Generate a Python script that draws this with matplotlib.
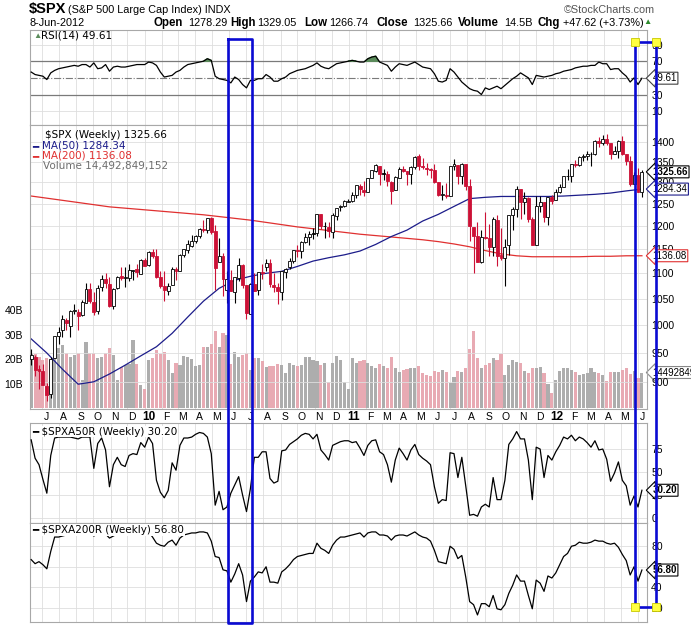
import numpy as np
import pandas as pd
import matplotlib
matplotlib.use('Agg')
import matplotlib.pyplot as plt
import matplotlib.ticker as mtick
import matplotlib.transforms as mtrans
from matplotlib.lines import Line2D

plt.rcParams['font.family'] = ['Liberation Sans', 'DejaVu Sans']

# weekly bars 12-Jun-2009 .. 8-Jun-2012
weeks = pd.date_range('2009-06-12', '2012-06-08', freq='W-FRI')

opens = [940.0, 943.4, 922.0, 918.8, 894.3, 881.0, 940.6, 979.9, 990.2, 1008.9,
         998.2, 1026.6, 1025.2, 1018.7, 1041.0, 1067.9, 1043.0, 1026.9, 1072.0, 1088.2,
         1079.4, 1036.2, 1069.8, 1094.0, 1091.5, 1091.0, 1105.5, 1107.9, 1097.9, 1127.3,
         1116.6, 1145.0, 1136.0, 1092.4, 1073.9, 1065.5, 1075.9, 1109.1, 1105.4, 1138.4,
         1148.5, 1157.3, 1167.7, 1178.7, 1193.6, 1192.1, 1217.1, 1188.6, 1122.3, 1136.5,
         1067.4, 1087.3, 1063.0, 1091.2, 1117.1, 1077.5, 1020.0, 1078.0, 1066.0, 1102.9,
         1112.8, 1122.0, 1077.5, 1073.4, 1062.9, 1102.6, 1113.4, 1126.1, 1148.6, 1146.7,
         1165.3, 1176.8, 1184.7, 1185.7, 1226.7, 1200.4, 1196.7, 1186.6, 1223.2, 1242.5,
         1243.9, 1254.7, 1257.6, 1270.8, 1292.5, 1283.3, 1276.5, 1311.9, 1328.7, 1341.0,
         1322.7, 1321.2, 1301.2, 1281.7, 1311.8, 1332.0, 1328.6, 1319.6, 1337.1, 1365.2,
         1340.2, 1334.0, 1333.1, 1331.1, 1300.3, 1271.3, 1271.5, 1268.4, 1339.6, 1343.3,
         1315.9, 1344.3, 1292.6, 1198.5, 1179.2, 1123.2, 1176.7, 1173.6, 1153.5, 1214.0,
         1136.9, 1131.2, 1158.2, 1224.5, 1238.7, 1284.9, 1253.2, 1263.9, 1215.2, 1158.7,
         1244.3, 1255.1, 1219.7, 1265.0, 1258.9, 1277.8, 1289.1, 1315.3, 1316.2, 1344.3,
         1342.6, 1361.2, 1365.2, 1369.6, 1370.8, 1404.2, 1397.1, 1408.5, 1397.5, 1370.3,
         1378.5, 1403.4, 1369.0, 1351.9, 1295.7, 1317.8, 1278.29]
highs = [956.2, 946.3, 930.0, 931.0, 898.7, 943.0, 979.4, 996.7, 1018.0, 1013.1,
         1027.6, 1039.5, 1031.0, 1048.2, 1080.2, 1080.2, 1062.0, 1076.0, 1096.6, 1101.4,
         1092.6, 1071.5, 1094.0, 1113.7, 1112.4, 1119.1, 1107.5, 1119.7, 1129.6, 1130.4,
         1145.4, 1150.4, 1150.5, 1103.7, 1104.7, 1080.0, 1112.4, 1112.4, 1139.7, 1150.0,
         1169.2, 1181.0, 1181.0, 1194.7, 1214.0, 1217.3, 1219.8, 1202.6, 1173.6, 1141.9,
         1104.7, 1105.7, 1092.0, 1131.2, 1118.5, 1077.5, 1080.0, 1100.0, 1103.0, 1120.0,
         1129.2, 1129.2, 1100.1, 1081.0, 1105.1, 1111.2, 1131.5, 1149.0, 1159.7, 1167.7,
         1184.4, 1189.4, 1196.1, 1227.1, 1227.1, 1208.0, 1208.0, 1228.0, 1240.4, 1246.7,
         1259.3, 1260.0, 1278.0, 1293.2, 1296.1, 1302.7, 1311.0, 1330.0, 1344.1, 1341.0,
         1332.3, 1327.7, 1304.7, 1314.8, 1337.9, 1339.5, 1328.6, 1339.5, 1364.6, 1370.6,
         1359.4, 1346.8, 1334.6, 1345.2, 1300.3, 1295.0, 1298.6, 1341.0, 1356.5, 1343.3,
         1347.0, 1346.0, 1307.4, 1198.5, 1208.5, 1190.7, 1230.7, 1204.4, 1220.4, 1224.6,
         1195.9, 1171.4, 1224.6, 1242.0, 1292.7, 1284.9, 1277.6, 1266.0, 1219.7, 1267.1,
         1267.1, 1255.1, 1265.4, 1269.4, 1284.6, 1296.8, 1315.5, 1333.5, 1345.0, 1354.3,
         1363.9, 1368.9, 1378.0, 1374.2, 1405.9, 1414.0, 1419.2, 1422.4, 1397.5, 1391.4,
         1406.6, 1415.3, 1369.0, 1365.9, 1324.2, 1334.9, 1329.05]
lows = [930.0, 910.0, 888.9, 895.0, 869.3, 875.3, 940.6, 965.0, 978.5, 991.0,
        978.5, 1020.0, 991.0, 1017.0, 1041.0, 1041.2, 1019.0, 1020.2, 1064.5, 1071.0,
        1033.4, 1029.4, 1069.0, 1086.5, 1073.0, 1085.0, 1085.9, 1093.0, 1097.9, 1114.8,
        1114.0, 1131.4, 1090.2, 1071.6, 1044.5, 1056.5, 1075.9, 1086.0, 1105.4, 1134.4,
        1141.4, 1153.7, 1163.4, 1174.1, 1187.9, 1183.7, 1181.6, 1065.8, 1122.3, 1055.9,
        1040.8, 1064.9, 1042.2, 1084.0, 1071.0, 1011.0, 1020.0, 1063.8, 1056.9, 1088.0,
        1105.0, 1073.4, 1063.2, 1039.7, 1046.7, 1091.0, 1108.2, 1122.0, 1134.2, 1131.9,
        1164.0, 1159.7, 1171.7, 1177.7, 1194.0, 1173.0, 1176.0, 1173.0, 1213.7, 1232.9,
        1243.0, 1254.2, 1255.2, 1262.4, 1271.3, 1268.0, 1276.5, 1310.9, 1324.6, 1294.3,
        1305.1, 1291.0, 1249.1, 1281.7, 1311.8, 1326.0, 1294.7, 1295.3, 1331.5, 1329.2,
        1333.6, 1318.5, 1311.8, 1297.9, 1268.6, 1258.1, 1262.9, 1267.5, 1330.9, 1295.9,
        1295.9, 1282.9, 1168.1, 1101.5, 1122.1, 1121.1, 1172.4, 1136.1, 1136.2, 1114.2,
        1128.0, 1074.8, 1138.2, 1191.5, 1220.9, 1215.4, 1226.6, 1209.0, 1158.7, 1158.7,
        1231.5, 1209.5, 1202.4, 1248.6, 1258.9, 1274.7, 1289.1, 1306.1, 1300.8, 1337.3,
        1340.0, 1352.3, 1354.2, 1340.0, 1366.7, 1387.4, 1391.6, 1392.9, 1357.4, 1369.2,
        1358.8, 1367.9, 1343.4, 1291.0, 1295.7, 1277.3, 1266.74]
closes = [946.2, 921.2, 918.9, 896.4, 879.1, 940.4, 979.3, 987.5, 1010.5, 1004.1,
          1026.1, 1028.9, 1016.4, 1042.7, 1068.3, 1044.4, 1025.2, 1071.5, 1087.7, 1079.6,
          1036.2, 1069.3, 1093.5, 1091.4, 1091.5, 1106.0, 1106.4, 1102.5, 1126.5, 1115.1,
          1145.0, 1136.0, 1091.8, 1073.9, 1066.2, 1075.5, 1109.2, 1104.5, 1138.7, 1150.0,
          1159.9, 1166.6, 1178.1, 1194.4, 1192.1, 1217.3, 1186.7, 1110.9, 1135.7, 1087.7,
          1089.4, 1064.9, 1091.6, 1117.5, 1076.8, 1022.6, 1078.0, 1064.9, 1102.7, 1101.6,
          1121.6, 1079.3, 1071.7, 1064.6, 1104.5, 1109.6, 1125.6, 1148.7, 1146.2, 1165.2,
          1176.2, 1183.1, 1183.3, 1225.9, 1199.2, 1199.7, 1189.4, 1224.7, 1240.4, 1243.9,
          1256.8, 1257.6, 1271.5, 1293.2, 1283.4, 1276.3, 1310.9, 1329.2, 1343.0, 1319.9,
          1321.2, 1304.3, 1279.2, 1313.8, 1332.4, 1328.2, 1319.7, 1337.4, 1363.6, 1340.2,
          1337.8, 1333.3, 1331.1, 1300.2, 1271.0, 1271.5, 1268.5, 1339.7, 1343.8, 1316.1,
          1345.0, 1292.3, 1199.4, 1178.8, 1123.5, 1176.8, 1174.0, 1154.2, 1216.0, 1136.4,
          1131.4, 1155.5, 1224.6, 1238.3, 1285.1, 1253.2, 1263.9, 1215.7, 1158.7, 1244.3,
          1255.2, 1219.7, 1265.3, 1257.6, 1277.8, 1289.1, 1315.4, 1316.3, 1344.9, 1342.6,
          1361.2, 1365.7, 1369.6, 1370.9, 1404.2, 1397.1, 1408.5, 1398.1, 1370.3, 1378.5,
          1403.4, 1369.1, 1353.4, 1295.2, 1317.8, 1278.04, 1325.66]
# weekly volume, billions of shares
volume = [22, 22, 21, 19.6, 20.5, 19.6, 27.8, 24.5, 25.7, 22.4,
          21, 21.8, 22.4, 11.4, 27, 22.4, 22.4, 20.4, 21, 22.4,
          24.5, 21.8, 11.4, 16.9, 17.6, 17.9, 27.8, 17.8, 9.4, 7.8,
          19.5, 20.6, 23.7, 22, 23, 19.6, 14.4, 18.2, 17.6, 21.2,
          20.8, 20, 17, 17.6, 24.8, 25, 26, 31.6, 25, 30.5,
          29.9, 17.8, 23, 21, 21.8, 22.4, 15.5, 20.4, 20.4, 19,
          16.7, 17.2, 17, 17.8, 17.6, 14.3, 18.2, 17.6, 17, 17.5,
          20.8, 20.8, 19.6, 19, 17.6, 18.2, 10.7, 18.2, 21.2, 19.6,
          10.5, 7.8, 20.4, 18.2, 19, 19.6, 18.2, 17, 16.4, 17.8,
          17, 16.4, 20.8, 16.4, 14.9, 15.5, 16, 16.4, 16.4, 17,
          14.3, 13.6, 13, 15.2, 14.9, 15.5, 14.9, 10.2, 12.5, 15.2,
          14.9, 16.4, 24.1, 31.6, 20.4, 16.4, 17.6, 18.2, 20.4, 19.6,
          21.9, 13.6, 17.6, 19.6, 18.6, 18.2, 15.2, 14.3, 16.4, 16.4,
          16.7, 14.3, 10, 6.3, 11.4, 15.2, 16.4, 16.4, 15.5, 14.9,
          13.6, 14, 14.3, 16.4, 14.9, 14.3, 13.6, 11.2, 14.7, 14.9,
          14.9, 15.5, 16.4, 14, 15, 12.2, 14.49]
rsi = [57, 54, 53, 52, 48, 56, 59, 61, 62, 63,
       64, 65, 64, 66, 66, 63, 68, 61, 62, 66,
       58, 63, 64, 63, 63, 64, 65, 66, 66, 66,
       69, 68, 65, 57, 51, 52, 53, 57, 59, 63,
       66, 67, 68, 69, 70, 73, 71, 52, 49, 48,
       47, 44, 51, 48, 42, 38, 47, 47, 49, 49,
       54, 51, 46, 46, 49, 51, 55, 57, 59, 60,
       61, 63, 65, 68, 64, 62, 61, 64, 67, 68,
       69, 70, 71, 70, 69, 69, 73, 75, 76, 69,
       67, 65, 58, 63, 67, 66, 65, 67, 69, 66,
       63, 62, 61, 55, 46, 45, 47, 61, 57, 51,
       45, 41, 37, 35, 34, 30, 38, 36, 38, 40,
       37, 41, 45, 49, 52, 56, 53, 50, 42, 53,
       52, 51, 52, 53, 55, 56, 58, 59, 60, 62,
       63, 64, 64, 65, 65, 69, 67, 67, 60, 61,
       61, 56, 52, 45, 50, 42, 49.61]
pct_above_50 = [85, 65, 58, 42, 27, 68, 87, 88, 88, 88,
                88, 87, 86, 88, 88, 88, 54, 81, 87, 74,
                34, 58, 66, 58, 56, 68, 70, 69, 82, 77,
                88, 81, 41, 28, 22, 30, 60, 52, 79, 87,
                87, 88, 91, 93, 92, 88, 70, 14, 29, 9,
                12, 27, 36, 45, 25, 7, 32, 66, 66, 72,
                72, 43, 38, 40, 73, 74, 80, 83, 86, 90,
                92, 91, 86, 91, 74, 69, 63, 79, 81, 83,
                84, 84, 82, 83, 76, 68, 79, 84, 85, 72,
                69, 58, 39, 63, 76, 70, 63, 74, 80, 69,
                65, 62, 58, 34, 16, 20, 19, 71, 70, 44,
                66, 35, 3, 4, 2, 12, 15, 12, 44, 20,
                20, 41, 80, 86, 94, 86, 86, 63, 20, 77,
                75, 44, 68, 63, 72, 79, 88, 86, 90, 84,
                88, 86, 82, 77, 84, 74, 75, 64, 40, 49,
                61, 41, 35, 14, 24, 12, 30.2]
pct_above_200 = [67, 63, 65, 62, 58, 75, 89, 89, 90, 91,
                 92, 92, 91, 92, 93, 93, 90, 92, 93, 92,
                 88, 90, 92, 93, 92, 93, 92, 93, 93, 94,
                 94, 89, 83, 81, 80, 84, 86, 81, 88, 91,
                 92, 93, 93, 94, 94, 93, 85, 70, 69, 57,
                 56, 45, 53, 63, 52, 26, 46, 50, 55, 54,
                 60, 45, 45, 44, 55, 58, 62, 67, 70, 71,
                 72, 73, 73, 83, 78, 76, 73, 81, 86, 89,
                 89, 90, 91, 92, 93, 89, 93, 94, 94, 91,
                 91, 90, 86, 90, 91, 91, 90, 92, 94, 91,
                 89, 88, 85, 76, 65, 64, 63, 80, 77, 68,
                 71, 50, 26, 23, 13, 24, 24, 21, 32, 19,
                 18, 23, 34, 42, 52, 46, 46, 32, 19, 47,
                 44, 36, 51, 49, 54, 62, 70, 73, 80, 81,
                 84, 83, 83, 84, 86, 85, 85, 83, 82, 83,
                 79, 72, 66, 52, 60, 46, 56.8]
# moving averages read every 4th week
ma50 = [975, 950, 922, 897, 901, 914, 929, 945, 961, 985,
        1015, 1045, 1070, 1086, 1094, 1100, 1104, 1114, 1125, 1132,
        1138, 1146, 1160, 1177, 1191, 1211, 1226, 1244, 1262, 1265,
        1267, 1267, 1267, 1267, 1268, 1270, 1272, 1275, 1280, 1284.34]
ma200 = [1268, 1263, 1258, 1253, 1248, 1243, 1240, 1237, 1234, 1231,
         1228, 1225, 1221, 1217, 1213, 1208, 1203, 1198, 1194, 1190,
         1186, 1182, 1179, 1176, 1173, 1170, 1166, 1161, 1155, 1147,
         1140, 1136, 1134, 1134, 1134, 1134, 1135, 1135, 1136, 1136.08]

idx = np.arange(len(weeks))
ma_idx = idx[::4]
months = pd.date_range('2009-07-01', '2012-06-01', freq='MS')
mpos = (months - weeks[0]).days / 7.0

W, H = 691, 625
fig = plt.figure(figsize=(W / 100, H / 100), dpi=100)


def box(x0, y0, x1, y1):
    return [x0 / W, 1 - y1 / H, (x1 - x0) / W, (y1 - y0) / H]


def fx(px):
    return px / W


def fy(py):
    return 1 - py / H


GRID = '#dedede'
EDGE = '#a8a8a8'
RED = '#cc1136'
NAVY = '#1c1c8a'
MARED = '#e03030'
BLUE = '#0a0ad2'

L, R = 30, 647
ax_rsi = fig.add_axes(box(L, 30, R, 125))
ax_vol = fig.add_axes(box(L, 125, R, 409))
ax = fig.add_axes(box(L, 125, R, 409))
ax50 = fig.add_axes(box(L, 423, R, 523))
ax200 = fig.add_axes(box(L, 523, R, 622))
ax.patch.set_visible(False)


def style(a, vgrid=True):
    a.set_xlim(-0.3, 157.3)
    a.set_xticks([])
    for s in a.spines.values():
        s.set_color(EDGE)
        s.set_linewidth(0.8)
    a.yaxis.tick_right()
    a.tick_params(axis='y', length=0, pad=3, labelsize=7.5)
    if vgrid:
        for m in mpos:
            a.axvline(m, color=GRID, lw=0.6, zorder=0)


def tag(a, yv, text, ec, bold=False):
    a.annotate(text, xy=(1, yv), xycoords=a.get_yaxis_transform(),
               xytext=(4, 0), textcoords='offset points', ha='left', va='center',
               fontsize=7, fontweight='bold' if bold else 'normal',
               bbox=dict(boxstyle='larrow,pad=0.1', fc='white', ec=ec, lw=0.8),
               zorder=10, annotation_clip=False)


# RSI panel
style(ax_rsi)
ax_rsi.set_ylim(-6.6, 107.5)
ax_rsi.set_yticks([10, 30, 70, 90])
for v in (10, 90):
    ax_rsi.axhline(v, color=GRID, lw=0.6, zorder=0)
for v in (30, 70):
    ax_rsi.axhline(v, color='#7a7a7a', lw=0.9, zorder=1)
ax_rsi.axhline(50, color='#7a7a7a', lw=0.8, ls='-.', zorder=1)
r = np.array(rsi)
ax_rsi.fill_between(idx, r, 70, where=r > 70, interpolate=True, color='#5b8c5b', zorder=2)
ax_rsi.plot(idx, rsi, color='black', lw=0.9, zorder=3)
tag(ax_rsi, 49.61, '49.61', '#404040')

# volume underneath the price panel
style(ax_vol)
ax_vol.yaxis.tick_left()
ax_vol.tick_params(axis='y', length=0, pad=5, labelsize=7.5)
ax_vol.set_ylim(-0.4, 115.5)
ax_vol.set_yticks([10, 20, 30, 40])
ax_vol.set_yticklabels(['10B', '20B', '30B', '40B'])
for s in ax_vol.spines.values():
    s.set_visible(False)
prev = [opens[0]] + closes[:-1]
down = [c < p for c, p in zip(closes, prev)]
vcols = ['#e8aab3' if d else '#adadad' for d in down]
ax_vol.bar(idx, volume, width=0.8, color=vcols, zorder=1)
tag(ax_vol, 14.49, '14492849152', '#888888')

# price panel
style(ax, vgrid=False)
ax.set_yscale('log')
ax.set_ylim(857, 1445)
ticks = list(range(900, 1401, 50))
ax.set_yticks(ticks)
ax.set_yticklabels([str(t) for t in ticks])
ax.yaxis.set_minor_locator(mtick.NullLocator())
ax.yaxis.set_minor_formatter(mtick.NullFormatter())
for t in ticks:
    ax.axhline(t, color=GRID, lw=0.6, zorder=0)
ax.plot(ma_idx, ma200, color=MARED, lw=0.9, zorder=2)
ax.plot(ma_idx, ma50, color=NAVY, lw=0.9, zorder=2)
ccols = [RED if d else 'black' for d in down]
faces = ['white' if c >= o else col for o, c, col in zip(opens, closes, ccols)]
bottoms = [min(o, c) for o, c in zip(opens, closes)]
heights = [max(abs(c - o), 0.8) for o, c in zip(opens, closes)]
ax.vlines(idx, lows, highs, colors=ccols, lw=0.8, zorder=3)
ax.bar(idx, heights, bottom=bottoms, width=0.75, color=faces, edgecolor=ccols,
       linewidth=0.6, zorder=4)
tag(ax, 1325.66, '1325.66', 'black', bold=True)
tag(ax, 1284.34, '1284.34', NAVY)
tag(ax, 1136.08, '1136.08', MARED)

# month labels
trans = mtrans.blended_transform_factory(ax.transData, ax.transAxes)
letters = 'JFMAMJJASOND'
for m, d in zip(mpos, months):
    if d.month == 1:
        ax.text(m + 1.1, -8 / 284, str(d.year)[2:], transform=trans, ha='center',
                va='center', fontsize=8.5, fontweight='bold')
    else:
        ax.text(m + 1.1, -8 / 284, letters[d.month - 1], transform=trans, ha='center',
                va='center', fontsize=7.5)

# breadth panels
style(ax50)
ax50.set_ylim(-5.4, 103.3)
ax50.set_yticks([0, 25, 50, 75])
for v in (0, 25, 50, 75):
    ax50.axhline(v, color=GRID, lw=0.6, zorder=0)
ax50.plot(idx, pct_above_50, color='black', lw=0.9, zorder=3)
tag(ax50, 30.2, '30.20', 'black', bold=True)

style(ax200)
ax200.set_ylim(6.1, 102.7)
ax200.set_yticks([20, 40, 60, 80])
for v in (20, 40, 60, 80):
    ax200.axhline(v, color=GRID, lw=0.6, zorder=0)
ax200.plot(idx, pct_above_200, color='black', lw=0.9, zorder=3)
tag(ax200, 56.8, '56.80', 'black', bold=True)

# header
fig.text(fx(29), fy(9), '$SPX', fontsize=10.5, fontweight='bold', va='center')
fig.text(fx(68), fy(10), '(S&P 500 Large Cap Index) INDX', fontsize=7.8, va='center')
fig.text(fx(655), fy(10), '\u00a9StockCharts.com', ha='right', fontsize=7.8,
         color='#555555', va='center')
fig.text(fx(29), fy(23), '8-Jun-2012', fontsize=7.8, va='center')
header = [(153, 'Open', True), (188, '1278.29', False), (230, 'High', True),
          (257, '1329.05', False), (304, 'Low', True), (329, '1266.74', False),
          (377, 'Close', True), (413, '1325.66', False), (458, 'Volume', True),
          (504, '14.5B', False), (538, 'Chg', True), (563, '+47.62 (+3.73%)', False)]
for px, s, b in header:
    fig.text(fx(px), fy(23), s, fontsize=8.3 if b else 7.8,
             fontweight='bold' if b else 'normal', va='center')
fig.text(fx(643), fy(23), '\u25b2', fontsize=6, color='#2e8b2e', va='center')

# panel legends
lab = dict(fontsize=7.5, family=['DejaVu Sans'], va='center')
fig.text(fx(33), fy(36), '\u25b2', fontsize=6, color='#5b8c5b', va='center')
fig.text(fx(41), fy(36), 'RSI(14) 49.61', **lab)
fig.text(fx(45), fy(135), '$SPX (Weekly) 1325.66', **lab)
fig.text(fx(32), fy(145.7), '\u2501', color=NAVY, **lab)
fig.text(fx(42), fy(145.7), 'MA(50) 1284.34', color=NAVY, **lab)
fig.text(fx(32), fy(155.7), '\u2501', color=MARED, **lab)
fig.text(fx(42), fy(155.7), 'MA(200) 1136.08', color=MARED, **lab)
fig.text(fx(43), fy(166.5), 'Volume 14,492,849,152', color='#6e6e6e', **lab)
fig.text(fx(32), fy(431.7), '\u2501 $SPXA50R (Weekly) 30.20', **lab,
         bbox=dict(fc='white', ec='none', pad=0.5))
fig.text(fx(32), fy(530), '\u2501 $SPXA200R (Weekly) 56.80', **lab,
         bbox=dict(fc='white', ec='none', pad=0.5))


# hand drawn markup
def seg(xs, ys):
    fig.add_artist(Line2D([fx(v) for v in xs], [fy(v) for v in ys], color=BLUE,
                          lw=1.9, transform=fig.transFigure, zorder=5))


seg([228, 252, 252, 228, 228], [39, 39, 623, 623, 39])
seg([635, 635], [42, 607])
seg([656, 656], [42, 607])
seg([635, 656], [42, 42])
seg([635, 656], [607, 607])
fig.add_artist(Line2D([fx(635), fx(656), fx(635), fx(656)],
                      [fy(42), fy(42), fy(607), fy(607)], ls='none', marker='s',
                      ms=5.5, mfc='#ffff40', mec='#c8c800', mew=0.6,
                      transform=fig.transFigure, zorder=6))

fig.savefig('out.png', dpi=100)
